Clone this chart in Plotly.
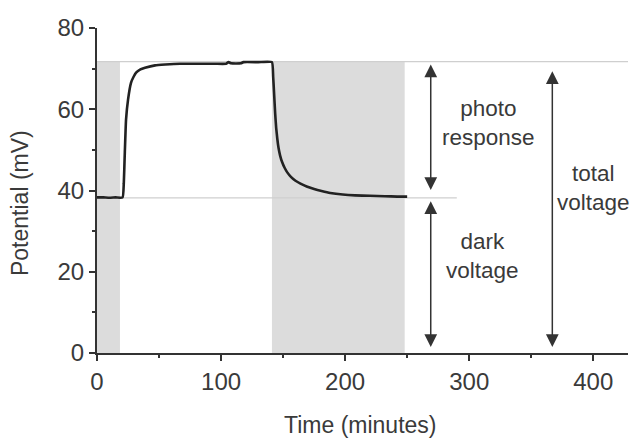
import plotly.graph_objects as go

# ---- data ----
time_min = [0, 5, 10, 15, 20.6, 21.6, 22.3, 23.4, 25.0, 27.4, 29.5, 31.5, 35, 38.7, 46.8,
            55, 67, 80, 95, 104, 106, 108, 116, 118, 130, 141,
            142.0, 142.8, 143.6, 144.4, 145.3, 146.3, 147.6, 149.2, 151.2, 153.5, 156.5,
            160, 164, 169, 175, 181, 188, 198, 208, 220, 232, 242, 250]
potential_mv = [38.3, 38.3, 38.2, 38.3, 38.3, 41.8, 48.3, 57.4, 62.3, 66.5, 68.0, 69.0, 69.8, 70.2, 70.8,
                71.0, 71.2, 71.2, 71.2, 71.2, 71.6, 71.3, 71.3, 71.6, 71.6, 71.6,
                68.0, 63.5, 59.0, 55.5, 52.8, 50.5, 48.6, 47.0, 45.6, 44.4, 43.3,
                42.4, 41.7, 41.0, 40.4, 39.9, 39.4, 39.0, 38.8, 38.7, 38.6, 38.5, 38.5]

dark_periods = [(0, 18.5), (141, 248)]       # shaded (dark) intervals, minutes
shade_top = 71.7
light_level = 71.7                           # reference line: total voltage
dark_level = 38.2                            # reference line: dark voltage
light_line_span = (0, 428)
dark_line_span = (0, 290)

x_ticks = [0, 100, 200, 300, 400]
y_ticks = [0, 20, 40, 60, 80]
x_range = [0, 428]
y_range = [0, 80]

# arrows: (x, y_start, y_end)
photo_arrow = (269, 71.4, 40.1)
dark_arrow = (269, 37.7, 1.5)
total_arrow = (367, 69.7, 1.5)

labels = [
    ("photo<br>response", 315.5, 56.5),
    ("dark<br>voltage", 311, 23.9),
    ("total<br>voltage", 400, 40.6),
]

TXT = "#3a3a3a"
FONT = "Liberation Sans, Arial, sans-serif"

fig = go.Figure()

shapes = []
for x0, x1 in dark_periods:
    shapes.append(dict(type="rect", xref="x", yref="y", x0=x0, x1=x1, y0=0, y1=shade_top,
                       fillcolor="#dcdcdc", line=dict(width=0), layer="below"))
shapes.append(dict(type="line", xref="x", yref="y", x0=light_line_span[0], x1=light_line_span[1],
                   y0=light_level, y1=light_level, line=dict(color="#cfcfcf", width=1.2), layer="below"))
shapes.append(dict(type="line", xref="x", yref="y", x0=dark_line_span[0], x1=dark_line_span[1],
                   y0=dark_level, y1=dark_level, line=dict(color="#cfcfcf", width=1.2), layer="below"))

fig.add_trace(go.Scatter(x=time_min, y=potential_mv, mode="lines",
                         line=dict(color="#222222", width=2.6, shape="spline", smoothing=0.4),
                         showlegend=False, hoverinfo="skip"))

annotations = []
for (ax_x, y0, y1) in [photo_arrow, dark_arrow, total_arrow]:
    annotations.append(dict(x=ax_x, y=y1, ax=ax_x, ay=y0, xref="x", yref="y", axref="x", ayref="y",
                            text="", showarrow=True, arrowhead=2, startarrowhead=2,
                            arrowside="end+start", arrowsize=1.7, startarrowsize=1.7,
                            arrowwidth=1.5, arrowcolor="#333333", standoff=0, startstandoff=0))
for txt, x, y in labels:
    annotations.append(dict(x=x, y=y, xref="x", yref="y", text=txt, showarrow=False,
                            font=dict(family=FONT, size=22.5, color=TXT), align="center"))

# axis titles
annotations.append(dict(x=0.497, y=-0.2215, xref="paper", yref="paper", text="Time (minutes)",
                        showarrow=False, xanchor="center", yanchor="middle",
                        font=dict(family=FONT, size=23, color=TXT)))
annotations.append(dict(x=-0.145, y=0.4615, xref="paper", yref="paper", text="Potential (mV)",
                        showarrow=False, xanchor="center", yanchor="middle", textangle=-90,
                        font=dict(family=FONT, size=23, color=TXT)))

fig.update_layout(
    width=635, height=438,
    margin=dict(l=97, r=7, t=28, b=85),
    paper_bgcolor="white", plot_bgcolor="white",
    shapes=shapes, annotations=annotations,
    font=dict(family=FONT, color=TXT),
)
axis_common = dict(showline=True, linecolor="#333333", linewidth=2, showgrid=False, zeroline=False,
                   ticks="outside", ticklen=6, tickwidth=1.5, tickcolor="#333333",
                   tickfont=dict(family=FONT, size=24, color=TXT))
fig.update_xaxes(range=x_range, tickvals=x_ticks, **axis_common,
                 minor=dict(dtick=50, tick0=0, ticks="outside", ticklen=3, tickwidth=1.5,
                            tickcolor="#333333", showgrid=False))
fig.update_yaxes(range=y_range, tickvals=y_ticks, **axis_common,
                 minor=dict(dtick=10, tick0=0, ticks="outside", ticklen=3, tickwidth=1.5,
                            tickcolor="#333333", showgrid=False))

fig.write_html("out.html")
